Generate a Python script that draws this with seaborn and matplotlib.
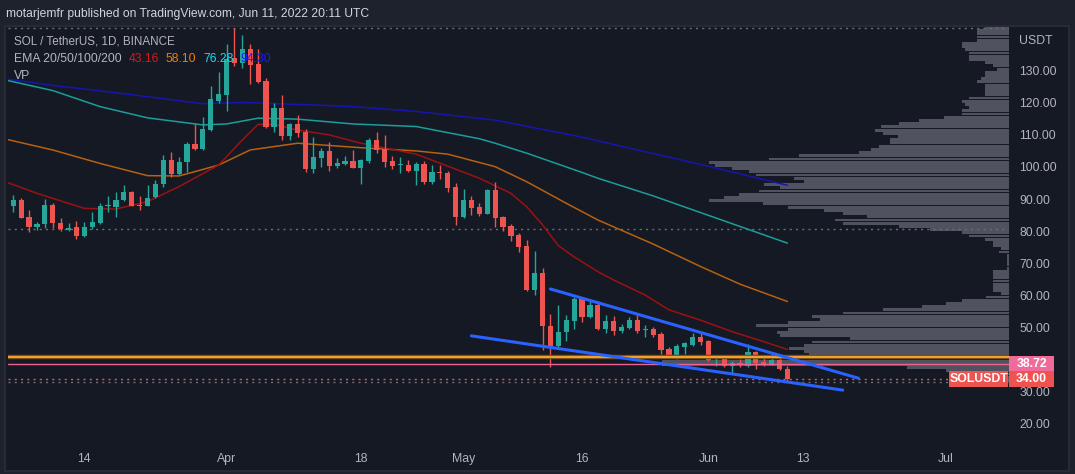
import numpy as np
import pandas as pd
import matplotlib
matplotlib.use('Agg')
import matplotlib.pyplot as plt
import matplotlib.dates as mdates
from matplotlib.patches import Rectangle
import seaborn as sns

# ---------------- data ----------------
start_date = '2022-03-04'
opens = [95.9, 87.9, 89.7, 84.3, 81.4, 82.2, 88.2, 82.5, 80.5, 81.2,
         78.6, 81.4, 82.5, 87.8, 87.6, 89.6, 92.2, 88.1, 88.0, 90.5,
         94.6, 102.2, 97.8, 101.5, 107.1, 105.5, 111.5, 120.5, 122.4, 134.0,
         132.3, 136.8, 132.1, 126.9, 112.6, 118.5, 109.8, 113.3, 111.0, 99.4,
         102.9, 105.1, 100.4, 101.0, 101.9, 99.8, 102.0, 108.4, 105.6, 102.0,
         100.5, 100.6, 98.9, 101.0, 95.2, 98.5, 98.2, 93.9, 84.3, 89.7,
         87.4, 85.4, 92.8, 84.3, 81.6, 78.8, 75.4, 61.7, 66.9, 50.6,
         44.3, 48.7, 52.1, 58.9, 53.4, 57.0, 49.5, 52.0, 49.0, 49.9,
         52.3, 49.1, 49.5, 48.0, 43.2, 40.9, 44.0, 44.5, 47.0, 45.8,
         40.1, 40.7, 38.0, 38.9, 38.0, 42.4, 39.3, 38.4, 40.0, 37.1]
highs = [96.2, 91.3, 90.2, 86.6, 82.9, 90.0, 88.7, 84.0, 82.5, 83.2,
         83.0, 85.9, 88.7, 91.1, 92.1, 94.4, 92.5, 91.1, 94.4, 96.0,
         103.7, 104.6, 103.2, 107.7, 113.3, 115.7, 125.2, 129.7, 138.3, 143.4,
         141.1, 138.3, 136.8, 127.6, 120.0, 122.4, 113.8, 116.2, 111.7, 109.3,
         105.8, 107.7, 102.7, 103.4, 105.3, 102.5, 109.1, 110.8, 110.0, 103.5,
         103.2, 102.2, 101.7, 101.9, 100.6, 100.6, 98.8, 95.1, 93.1, 91.0,
         88.9, 93.1, 95.4, 84.7, 82.2, 79.3, 77.3, 73.8, 68.4, 54.1,
         57.0, 53.9, 59.4, 59.6, 58.4, 58.1, 53.9, 53.6, 51.1, 53.2,
         54.4, 50.8, 50.2, 48.5, 43.8, 44.9, 45.6, 48.4, 48.2, 46.1,
         41.4, 41.4, 39.7, 40.1, 44.9, 42.7, 40.7, 42.0, 40.6, 38.0]
lows = [87.1, 86.1, 84.0, 79.9, 80.4, 80.9, 80.9, 80.0, 80.0, 77.6,
        78.1, 80.7, 82.3, 86.1, 84.5, 89.5, 87.7, 86.6, 87.9, 90.2,
        93.9, 97.0, 97.6, 98.5, 105.3, 105.3, 111.3, 120.0, 117.4, 131.6,
        130.7, 125.9, 126.1, 112.1, 111.0, 108.4, 108.4, 109.3, 98.4, 98.2,
        100.1, 98.9, 99.6, 100.6, 99.6, 94.7, 101.2, 104.5, 99.9, 99.3,
        98.2, 98.5, 94.4, 94.7, 94.7, 96.3, 92.3, 81.9, 84.0, 85.0,
        84.7, 85.2, 81.4, 80.2, 77.0, 73.6, 61.5, 60.1, 43.0, 37.6,
        43.5, 45.9, 49.5, 51.8, 52.9, 49.2, 48.4, 47.7, 48.4, 49.4,
        48.4, 47.1, 47.1, 41.7, 40.4, 40.2, 41.7, 44.2, 44.5, 39.6,
        38.1, 37.6, 35.7, 37.8, 37.8, 37.1, 38.0, 38.2, 36.8, 33.1]
closes = [87.9, 89.7, 84.2, 81.4, 82.2, 88.2, 82.5, 80.6, 80.9, 78.6,
          81.2, 82.8, 87.8, 88.0, 89.7, 92.1, 87.9, 87.8, 90.4, 94.6,
          102.2, 97.8, 101.5, 107.1, 105.5, 111.7, 121.1, 122.7, 133.5, 132.3,
          136.8, 131.8, 126.4, 112.6, 118.5, 109.8, 113.3, 110.7, 99.4, 103.2,
          105.1, 100.4, 101.3, 102.0, 99.8, 102.2, 108.4, 105.3, 101.7, 100.4,
          100.7, 98.9, 101.0, 95.2, 98.5, 98.0, 93.6, 84.5, 89.7, 87.3,
          85.4, 92.8, 84.2, 81.4, 78.6, 75.2, 61.7, 66.9, 50.6, 44.3,
          48.7, 52.3, 58.9, 53.4, 57.0, 49.5, 52.0, 49.0, 50.2, 52.3,
          48.9, 49.5, 47.7, 43.0, 40.9, 44.2, 45.3, 47.1, 45.5, 39.9,
          40.7, 38.0, 39.0, 38.2, 42.4, 39.0, 38.6, 39.9, 37.0, 34.0]

ema20_dates = ['2022-03-04', '2022-03-08', '2022-03-14', '2022-03-18', '2022-03-22', '2022-03-26',
               '2022-03-31', '2022-04-03', '2022-04-05', '2022-04-07', '2022-04-10', '2022-04-14',
               '2022-04-18', '2022-04-25', '2022-05-03', '2022-05-07', '2022-05-09', '2022-05-11',
               '2022-05-13', '2022-05-15', '2022-05-18', '2022-05-20', '2022-05-24', '2022-05-27',
               '2022-05-31', '2022-06-04', '2022-06-08', '2022-06-11']
ema20_values = [95.4, 91.8, 87.1, 86.9, 89.2, 93.9, 100.6, 108.4, 113.3, 113.3, 111.5, 110.0,
                107.4, 104.0, 96.5, 91.8, 87.6, 82.0, 75.5, 72.0, 67.4, 64.8, 60.1, 55.5,
                52.3, 48.7, 45.6, 43.16]
ema50_dates = ['2022-03-04', '2022-03-10', '2022-03-16', '2022-03-22', '2022-03-26', '2022-03-31',
               '2022-04-04', '2022-04-10', '2022-04-18', '2022-04-25', '2022-04-29', '2022-05-05',
               '2022-05-09', '2022-05-14', '2022-05-18', '2022-05-25', '2022-05-31', '2022-06-05',
               '2022-06-11']
ema50_values = [108.7, 105.3, 101.1, 97.3, 97.2, 100.6, 105.3, 107.4, 106.0, 105.0, 104.0, 100.1,
                95.4, 88.7, 83.5, 76.0, 69.0, 63.5, 58.10]
ema100_dates = ['2022-03-04', '2022-03-10', '2022-03-16', '2022-03-22', '2022-03-29', '2022-04-01',
                '2022-04-05', '2022-04-10', '2022-04-17', '2022-04-25', '2022-05-03', '2022-05-05',
                '2022-05-09', '2022-05-16', '2022-05-18', '2022-05-25', '2022-05-31', '2022-06-11']
ema100_values = [127.1, 123.8, 118.8, 115.3, 113.1, 113.4, 115.2, 114.9, 113.4, 112.6, 108.8, 107.4,
                 104.3, 98.3, 96.5, 91.0, 85.8, 76.28]
ema200_dates = ['2022-03-04', '2022-03-10', '2022-03-16', '2022-03-22', '2022-03-29', '2022-04-03',
                '2022-04-12', '2022-04-17', '2022-04-25', '2022-05-05', '2022-05-16', '2022-05-23',
                '2022-05-31', '2022-06-11']
ema200_values = [127.5, 125.4, 123.7, 121.9, 119.7, 120.1, 119.3, 118.8, 117.3, 114.6, 109.3, 105.3,
                 100.8, 94.30]

# volume profile: one row per 1 USDT, starting at 33
vp_start = 33
vp_volume = [20, 25, 30, 63, 102, 347, 347, 347, 200, 205,
             220, 205, 197, 159, 229, 232, 221, 253, 221, 189,
             197, 166, 126, 87, 63, 47, 23, 8, 16, 16,
             16, 16, 16, 16, 16, 2, 2, 2, 2, 2,
             10, 8, 16, 16, 24, 40, 47, 79, 110, 166,
             174, 142, 166, 185, 221, 246, 300, 285, 270, 250,
             229, 245, 205, 215, 253, 260, 277, 294, 300, 240,
             210, 150, 138, 130, 119, 119, 111, 126, 134, 128,
             110, 90, 65, 47, 47, 40, 44, 47, 40, 24,
             24, 24, 24, 32, 28, 24, 24, 12, 16, 24,
             40, 40, 40, 44, 47, 47, 32, 32, 32, 32, 24]

upper_trend_dates = ['2022-05-12', '2022-06-20']
upper_trend_values = [62.0, 34.2]
lower_trend_dates = ['2022-05-02', '2022-06-18']
lower_trend_values = [47.4, 30.5]

orange_level = 40.7
pink_level = 38.72
dotted_levels = [143.4, 80.8, 33.0]
last_price = 34.00

price_ticks = [20, 30, 50, 60, 70, 80, 90, 100, 110, 120, 130]
time_tick_dates = ['2022-03-14', '2022-04-01', '2022-04-18', '2022-05-01', '2022-05-16',
                   '2022-06-01', '2022-06-13', '2022-07-01']
time_tick_labels = ['14', 'Apr', '18', 'May', '16', 'Jun', '13', 'Jul']

header_text = 'motarjemfr published on TradingView.com, Jun 11, 2022 20:11 UTC'
symbol_text = 'SOL / TetherUS, 1D, BINANCE'
ema_legend_values = ['43.16', '58.10', '76.28', '94.30']

# ---------------- style ----------------
sns.set_theme(style='dark')
plt.rcParams['font.family'] = ['Liberation Sans', 'DejaVu Sans']

OUT = '#1e222d'
BG = '#151924'
TXT = '#b2b5be'
UP = '#26a69a'
DOWN = '#ef5350'

FW, FH = 1075, 474
def fx(px):
    return px / FW
def fy(py):
    return 1 - py / FH

fig = plt.figure(figsize=(FW / 100, FH / 100), dpi=100, facecolor=OUT)
fig.add_artist(Rectangle((fx(5), fy(471)), fx(1069) - fx(5), fy(26) - fy(471),
                         transform=fig.transFigure, facecolor=BG, edgecolor='#2a2e39',
                         lw=1.2, zorder=-5))

ax = fig.add_axes([fx(8), fy(445), fx(1009) - fx(8), fy(27) - fy(445)])
ax_vp = ax.twiny()
ax.set_zorder(3)
ax_vp.set_zorder(2)
ax.patch.set_visible(False)
ax_vp.patch.set_visible(False)

# volume profile
vp_prices = np.arange(vp_start, vp_start + len(vp_volume)) + 0.5
ax_vp.barh(vp_prices, vp_volume, height=0.9, color='#50535f', edgecolor='none')
ax_vp.set_xlim(1001, 0)
ax_vp.set_xticks([])

# candles
df = pd.DataFrame({'date': pd.date_range(start_date, periods=len(opens), freq='D'),
                   'open': opens, 'high': highs, 'low': lows, 'close': closes})
up = df['close'] >= df['open']
cols = np.where(up, UP, DOWN)
body_lo = np.minimum(df['open'], df['close'])
body_h = np.maximum(np.abs(df['close'] - df['open']), 0.35)
ax.vlines(df['date'], df['low'], df['high'], colors=cols, lw=1.0, zorder=4)
ax.bar(df['date'], body_h, bottom=body_lo, width=0.66, color=cols, zorder=5, linewidth=0)

# EMA lines
for d_, v_, c_ in [(ema200_dates, ema200_values, '#1515b0'),
                   (ema100_dates, ema100_values, '#1a9e9a'),
                   (ema50_dates, ema50_values, '#b8610f'),
                   (ema20_dates, ema20_values, '#9c1111')]:
    sns.lineplot(x=pd.to_datetime(d_), y=v_, ax=ax, color=c_, lw=1.1, zorder=3)

# horizontal levels
ax.axhline(orange_level, color='#6b4a16', lw=3.2, zorder=6)
ax.axhline(orange_level, color='#f0a030', lw=1.6, zorder=6)
ax.axhline(pink_level, color='#f06292', lw=1.0, zorder=6)
for lv in dotted_levels:
    ax.axhline(lv, color='#6a6d78', lw=1.0, ls=(0, (1.5, 3)), zorder=2)
ax.axhline(last_price, color=DOWN, lw=1.0, ls=(0, (1.5, 3)), zorder=2)

# trend lines
ax.plot(pd.to_datetime(upper_trend_dates), upper_trend_values, color='#2962ff', lw=2.2,
        solid_capstyle='round', zorder=7)
ax.plot(pd.to_datetime(lower_trend_dates), lower_trend_values, color='#2962ff', lw=2.2,
        solid_capstyle='round', zorder=7)

# axes limits
x0 = mdates.date2num(pd.Timestamp('2022-03-14'))
ax.set_xlim(x0 - 9.66, x0 + 117.05)
ax.set_ylim(13.4, 143.6)

for a in (ax, ax_vp):
    for s in a.spines.values():
        s.set_visible(False)
    a.grid(False)

ax.yaxis.tick_right()
ax.set_yticks(price_ticks)
ax.set_yticklabels([f'{t:.2f}' for t in price_ticks])
ax.tick_params(axis='y', length=0, pad=7.5, colors=TXT, labelsize=8.8)
ax.set_xticks(pd.to_datetime(time_tick_dates))
ax.set_xticklabels(time_tick_labels)
ax.tick_params(axis='x', length=0, pad=6, colors=TXT, labelsize=8.8)
ax.set_xlabel('')
ax.set_ylabel('')

# price labels on the axis
ytr = ax.get_yaxis_transform()
ax.add_patch(Rectangle((1.0, pink_level - 2.6), 45 / 1001, 5.15, transform=ytr,
                       facecolor='#f06a9a', edgecolor='none', clip_on=False, zorder=20))
ax.text(1.0 + 22.5 / 1001, pink_level - 0.1, f'{pink_level:.2f}', transform=ytr, ha='center',
        va='center', color='white', fontsize=8.8, fontweight='bold', zorder=21, clip_on=False)
ax.add_patch(Rectangle((1.0, last_price - 2.6), 45 / 1001, 5.2, transform=ytr,
                       facecolor=DOWN, edgecolor='none', clip_on=False, zorder=20))
ax.text(1.0 + 22.5 / 1001, last_price - 0.1, f'{last_price:.2f}', transform=ytr, ha='center',
        va='center', color='white', fontsize=8.8, fontweight='bold', zorder=21, clip_on=False)
ax.add_patch(Rectangle((0.9404, last_price - 2.6), 0.0583, 5.2, transform=ytr,
                       facecolor=DOWN, edgecolor='none', clip_on=False, zorder=20))
ax.text(0.9404 + 0.0583 / 2, last_price - 0.1, 'SOLUSDT', transform=ytr, ha='center',
        va='center', color='white', fontsize=8.8, fontweight='bold', zorder=21, clip_on=False)

# texts
fig.text(fx(6), fy(14), header_text, color='#d1d4dc', fontsize=8.7, ha='left', va='center')
fig.text(fx(1019), fy(41), 'USDT', color=TXT, fontsize=8.8, ha='left', va='center')
fig.text(fx(14), fy(42), symbol_text, color=TXT, fontsize=8.4, ha='left', va='center', zorder=30)
fig.text(fx(14), fy(59), 'EMA 20/50/100/200', color=TXT, fontsize=8.8, ha='left', va='center', zorder=30)
for xp, val, c in zip([129, 166, 203, 240], ema_legend_values,
                      ['#e01515', '#f57c00', '#00e5ff', '#1a1aff']):
    fig.text(fx(xp), fy(59), val, color=c, fontsize=8.8, ha='left', va='center', zorder=30)
fig.text(fx(14), fy(76), 'VP', color=TXT, fontsize=8.8, ha='left', va='center', zorder=30)

fig.savefig('out.png', dpi=100, facecolor=OUT)
